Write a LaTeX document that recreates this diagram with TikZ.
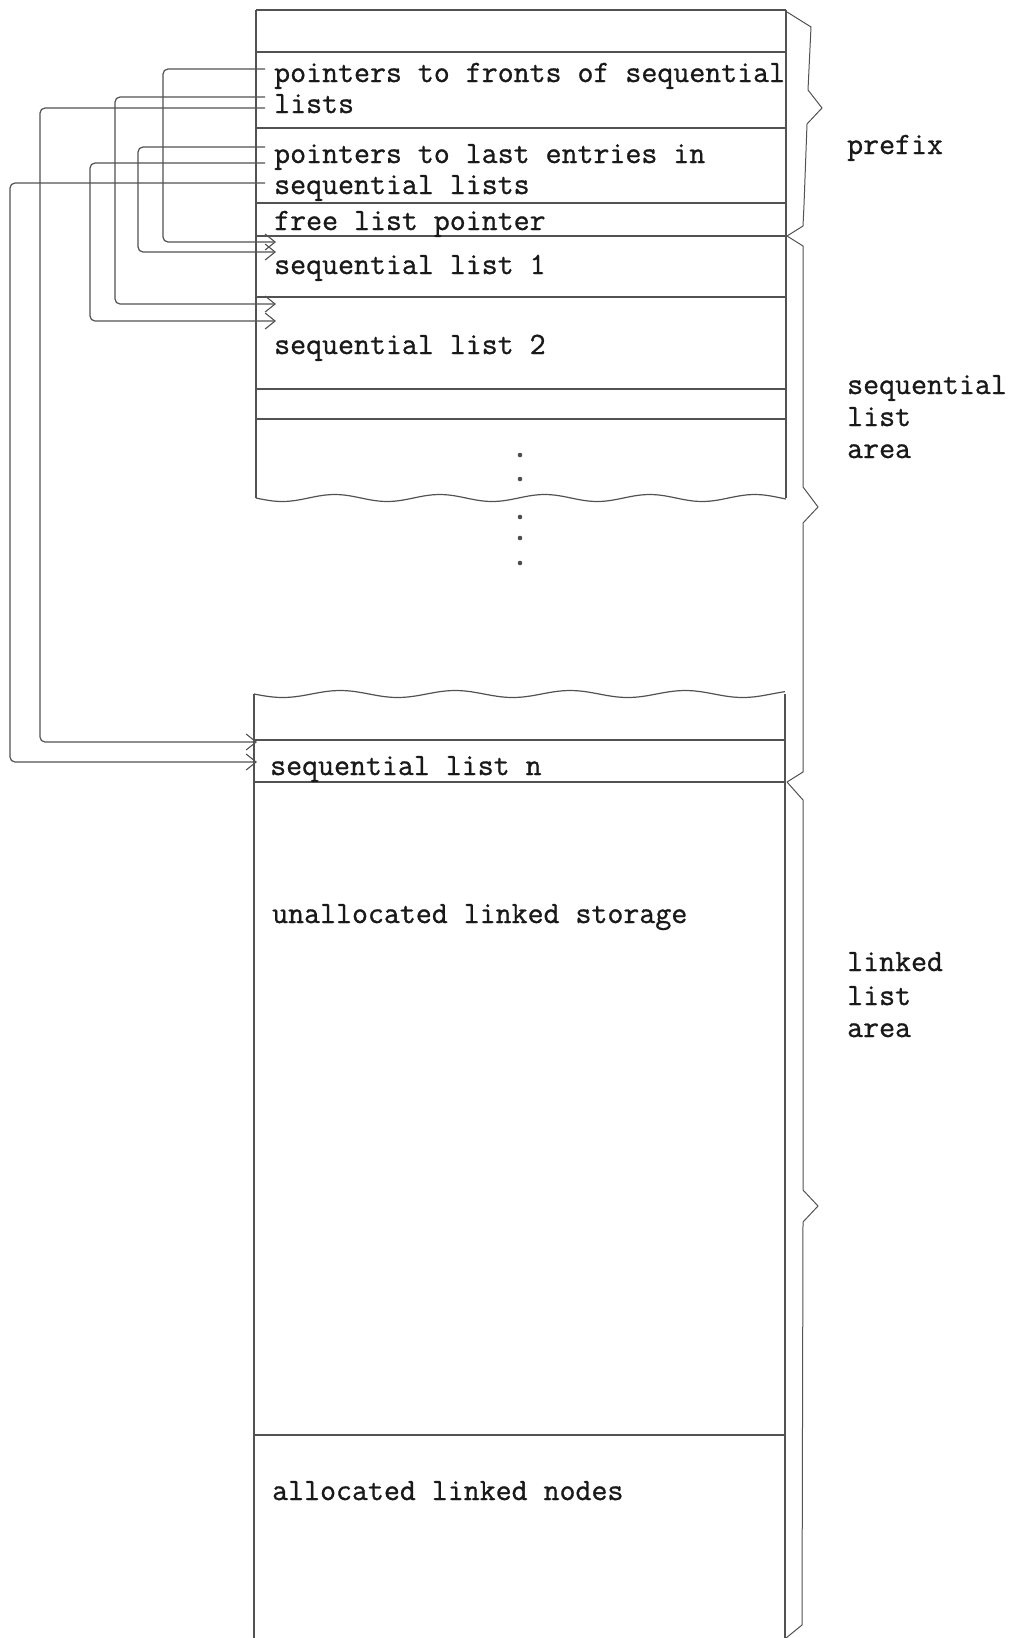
\documentclass[tikz,border=0pt]{standalone}
\usepackage{fontspec}
\newfontfamily\twfont{Latin Modern Mono}[FakeBold=0.9]
\usetikzlibrary{arrows.meta}
\begin{document}
\begin{tikzpicture}[x=1pt,y=-1pt,
  ln/.style={line width=1.2pt, draw=black!68},
  conn/.style={line width=1.2pt, draw=black!68, rounded corners=5pt,
    -{Straight Barb[length=10pt,width=16pt,line width=1.1pt]}},
  lbl/.style={anchor=base west, inner sep=0pt, text=black!90,
    font=\twfont\fontsize{31}{36}\selectfont},
  dot/.style={fill=black!70}]
\useasboundingbox (0,0) rectangle (1013,1638);

% ---------- upper box ----------
\draw[ln] (256,10) -- (786,10);
\draw[ln] (256,10) -- (256,498);
\draw[ln] (786,10) -- (786,498);
\foreach \yy in {52,128,203,236,297,389,419}
  \draw[ln] (256,\yy) -- (786,\yy);
\draw[ln] plot[smooth, domain=256:786, samples=70] (\x,{498+3.5*sin((\x-256)/105*360)});

% ---------- lower box ----------
\draw[ln] plot[smooth, domain=254:785, samples=70] (\x,{694+3.5*sin((\x-254)/115*360)});
\draw[ln] (254,694) -- (254,1638);
\draw[ln] (785,694) -- (785,1638);
\foreach \yy in {740,782,1435}
  \draw[ln] (254,\yy) -- (785,\yy);

% ---------- dots ----------
\foreach \yy in {455,479,517,538,563}
  \fill[dot] (520,\yy) circle (2.3pt);

% ---------- texts ----------
\node[lbl] (tfront) at (274,82)  {pointers to fronts of sequential};
\node[lbl] (tfront2) at (274,113) {lists};
\node[lbl] (tlast) at (274,163) {pointers to last entries in};
\node[lbl] (tlast2) at (274,194) {sequential lists};
\node[lbl] (tfree) at (274,230) {free list pointer};
\node[lbl] (tsl1) at (274,274) {sequential list 1};
\node[lbl] (tsl2) at (274,354) {sequential list 2};
\node[lbl] (tsln) at (270,775) {sequential list n};
\node[lbl] (tunal) at (272,923) {unallocated linked storage};
\node[lbl] (talloc) at (272,1500) {allocated linked nodes};

\node[lbl] (tprefix) at (847,154) {prefix};
\node[lbl] (tseqa) at (847,394) {sequential};
\node[lbl] (tseqb) at (847,426) {list};
\node[lbl] (tseqc) at (847,458) {area};
\node[lbl] (tlnka) at (847,971) {linked};
\node[lbl] (tlnkb) at (847,1005) {list};
\node[lbl] (tlnkc) at (847,1037) {area};

% ---------- braces ----------
\draw[ln, line width=1pt] (787,12) -- (811,27) -- (808,90) -- (822,108) -- (807,124) -- (804,205) -- (803,226) -- (787,236);
\draw[ln, line width=1pt] (787,236) -- (803,246) -- (803,487) -- (818,507) -- (803,523) -- (803,772) -- (787,782);
\draw[ln, line width=1pt] (787,782) -- (803,800) -- (803,1190) -- (818,1206) -- (803,1222) -- (802,1625) -- (786,1638);

% ---------- connector end points ----------
\coordinate (pf1) at (265,69);
\coordinate (pf2) at (265,97);
\coordinate (pf3) at (265,108);
\coordinate (pl1) at (265,147);
\coordinate (pl2) at (265,163);
\coordinate (pl3) at (265,183);
\coordinate (a1) at (276,242);
\coordinate (a2) at (276,304);
\coordinate (a3) at (257,742);
\coordinate (b1) at (276,252);
\coordinate (b2) at (276,321);
\coordinate (b3) at (257,762);
\coordinate (v1) at (163,0);
\coordinate (v2) at (115,0);
\coordinate (v3) at (40,0);
\coordinate (w1) at (138,0);
\coordinate (w2) at (90,0);
\coordinate (w3) at (10,0);

% ---------- connectors ----------
\draw[conn] (pf1) -- (pf1 -| v1) |- (a1);
\draw[conn] (pf2) -- (pf2 -| v2) |- (a2);
\draw[conn] (pf3) -- (pf3 -| v3) |- (a3);
\draw[conn] (pl1) -- (pl1 -| w1) |- (b1);
\draw[conn] (pl2) -- (pl2 -| w2) |- (b2);
\draw[conn] (pl3) -- (pl3 -| w3) |- (b3);
\end{tikzpicture}
\end{document}
